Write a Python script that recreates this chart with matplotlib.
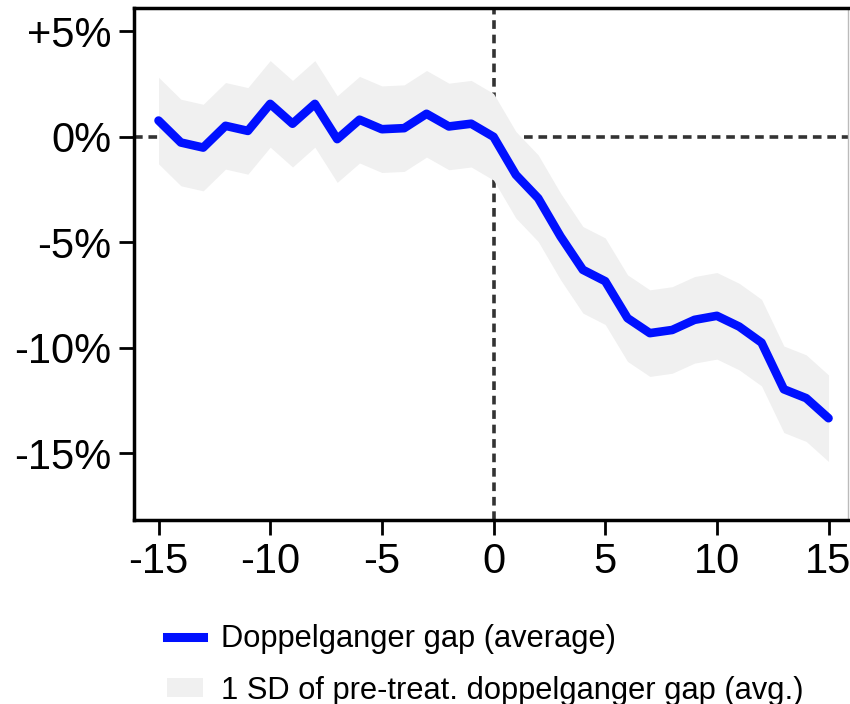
import numpy as np
import matplotlib
matplotlib.use("Agg")
import matplotlib.pyplot as plt
from matplotlib.lines import Line2D
from matplotlib.patches import Patch
from matplotlib.ticker import FuncFormatter

plt.rcParams['font.family'] = ['Liberation Sans', 'DejaVu Sans']
plt.rcParams['axes.unicode_minus'] = False

# event time relative to treatment
years = list(range(-15, 16))
# doppelganger gap (average), in percent
gap = [0.77, -0.27, -0.51, 0.52, 0.28, 1.56, 0.62, 1.56, -0.11, 0.81,
       0.36, 0.41, 1.09, 0.49, 0.62, 0.0,
       -1.8, -2.91, -4.72, -6.3, -6.84, -8.59, -9.3, -9.15, -8.67,
       -8.48, -8.99, -9.75, -11.96, -12.38, -13.33]
# 1 SD of pre-treatment doppelganger gap, in percent
sd_pre = 2.05

x = np.array(years)
g = np.array(gap)

fig = plt.figure(figsize=(8.5, 7.04), dpi=100)
ax = fig.add_axes([0.1576, 0.2614, 0.84, 0.7272])

ax.axhline(0, color='#333333', lw=2.6, dashes=(2.4, 1.6), zorder=1)
ax.axvline(0, color='#333333', lw=2.6, dashes=(2.4, 1.6), zorder=1)
ax.fill_between(x, g - sd_pre, g + sd_pre, color='#f0f0f0', lw=0, zorder=2)
ax.plot(x, g, color='#0010ff', lw=6.2, solid_capstyle='round',
        solid_joinstyle='round', zorder=3)

ax.set_xlim(-16.1, 15.87)
ax.set_ylim(-18.15, 6.1)
ax.set_xticks([-15, -10, -5, 0, 5, 10, 15])
ax.set_yticks([5, 0, -5, -10, -15])


def pct(v, pos):
    if v > 0:
        return '+%d%%' % v
    return '%d%%' % v


ax.yaxis.set_major_formatter(FuncFormatter(pct))
ax.tick_params(axis='both', direction='out', length=11, width=2,
               labelsize=30, pad=5)

for s in ['left', 'bottom', 'top']:
    ax.spines[s].set_linewidth(2.5)
    ax.spines[s].set_color('black')
ax.spines['right'].set_linewidth(1)
ax.spines['right'].set_color('#bbbbbb')

handles = [Line2D([0], [0], color='#0010ff', lw=6.5),
           Patch(facecolor='#f0f0f0', edgecolor='none')]
labels = ['Doppelganger gap (average)',
          '1 SD of pre-treat. doppelganger gap (avg.)']
fig.legend(handles, labels, loc='upper left', bbox_to_anchor=(0.1965, 0.1136),
           frameon=False, fontsize=22.2, handlelength=1.16, handleheight=0.58,
           handletextpad=0.6, labelspacing=0.7, borderpad=0, borderaxespad=0)

fig.savefig('out.png', dpi=100)
